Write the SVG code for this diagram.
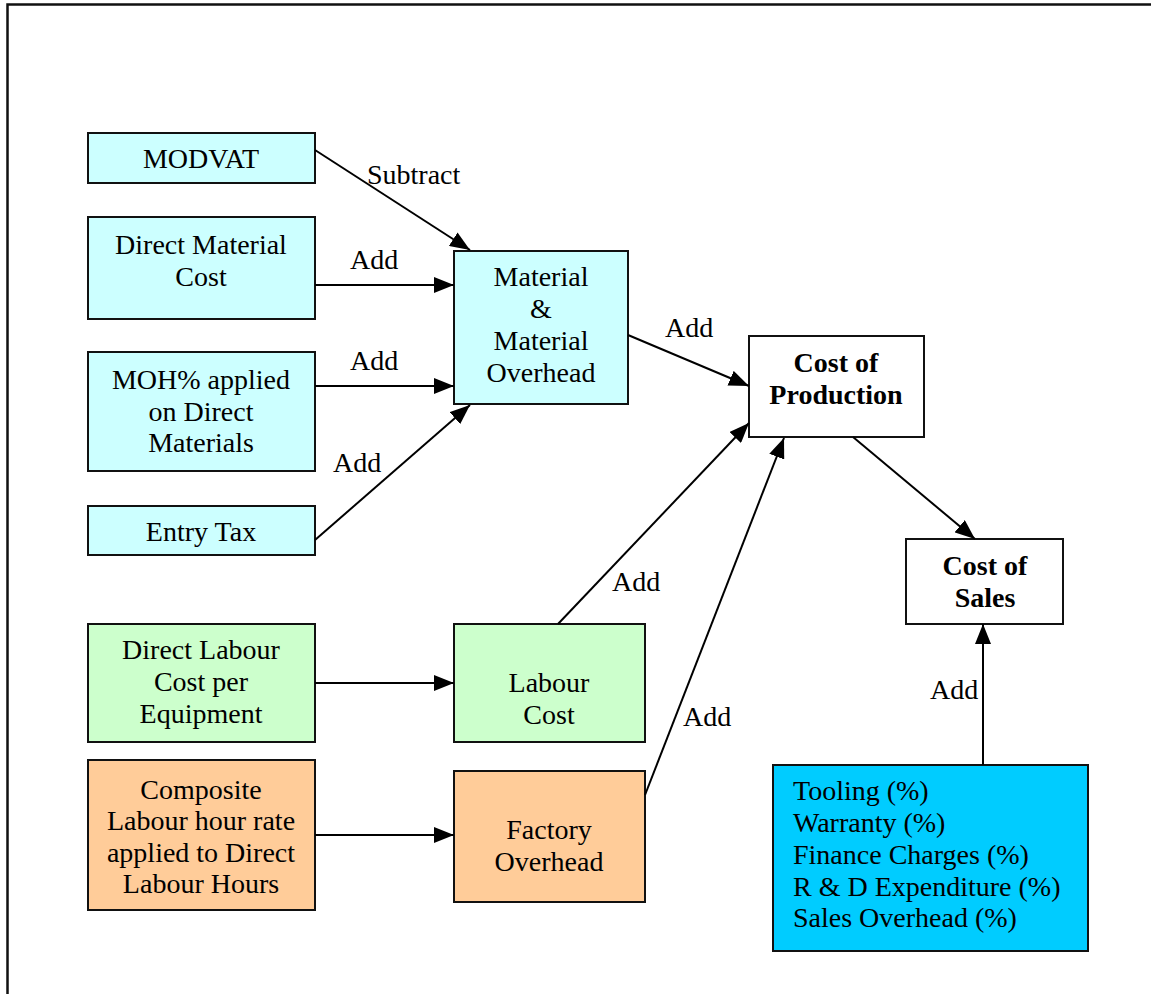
<svg xmlns="http://www.w3.org/2000/svg" width="1151" height="994" viewBox="0 0 1151 994">
<defs>
<marker id="ah" viewBox="0 0 20 16" refX="20" refY="8" markerWidth="20" markerHeight="16" markerUnits="userSpaceOnUse" orient="auto">
<path d="M0,0 L20,8 L0,16 Z" fill="#000"/>
</marker>
<style>
text{font-family:"Liberation Serif","Times New Roman",serif;font-size:28px;fill:#000}
.c{text-anchor:middle}
.b{font-weight:bold}
.box{stroke:#111;stroke-width:2}
.cyan{fill:#CCFFFF}
.green{fill:#CCFFCC}
.orange{fill:#FFCC99}
.white{fill:#FFFFFF}
.blue{fill:#00CCFF}
.conn line{stroke:#000;stroke-width:2;marker-end:url(#ah)}
</style>
</defs>
<rect width="1151" height="994" fill="#fff"/>
<path d="M7.5,996 L7.5,4.5 L1153,4.5" fill="none" stroke="#111" stroke-width="2.5"/>

<g id="modvat"><rect class="box cyan" x="88" y="133" width="227" height="50"/><text class="c" x="201" y="168">MODVAT</text></g>
<g id="dmc"><rect class="box cyan" x="88" y="217" width="227" height="102"/><text class="c" x="201" y="254">Direct Material</text><text class="c" x="201" y="286">Cost</text></g>
<g id="moh"><rect class="box cyan" x="88" y="352" width="227" height="119"/><text class="c" x="201" y="389">MOH% applied</text><text class="c" x="201" y="421">on Direct</text><text class="c" x="201" y="452">Materials</text></g>
<g id="entry"><rect class="box cyan" x="88" y="506" width="227" height="49"/><text class="c" x="201" y="541">Entry Tax</text></g>
<g id="mmo"><rect class="box cyan" x="454" y="251" width="174" height="153"/><text class="c" x="541" y="286">Material</text><text class="c" x="541" y="318">&amp;</text><text class="c" x="541" y="350">Material</text><text class="c" x="541" y="382">Overhead</text></g>
<g id="cop"><rect class="box white" x="749" y="336" width="175" height="101"/><text class="c b" x="836" y="372">Cost of</text><text class="c b" x="836" y="404">Production</text></g>
<g id="cos"><rect class="box white" x="906" y="539" width="157" height="85"/><text class="c b" x="985" y="575">Cost of</text><text class="c b" x="985" y="607">Sales</text></g>
<g id="dlc"><rect class="box green" x="88" y="624" width="227" height="118"/><text class="c" x="201" y="659">Direct Labour</text><text class="c" x="201" y="691">Cost per</text><text class="c" x="201" y="723">Equipment</text></g>
<g id="lc"><rect class="box green" x="454" y="624" width="191" height="118"/><text class="c" x="549" y="692">Labour</text><text class="c" x="549" y="724">Cost</text></g>
<g id="clr"><rect class="box orange" x="88" y="760" width="227" height="150"/><text class="c" x="201" y="799">Composite</text><text class="c" x="201" y="830">Labour hour rate</text><text class="c" x="201" y="862">applied to Direct</text><text class="c" x="201" y="893">Labour Hours</text></g>
<g id="fo"><rect class="box orange" x="454" y="771" width="191" height="131"/><text class="c" x="549" y="839">Factory</text><text class="c" x="549" y="871">Overhead</text></g>
<g id="tooling"><rect class="box blue" x="773" y="765" width="315" height="186"/><text x="793" y="800">Tooling (%)</text><text x="793" y="832">Warranty (%)</text><text x="793" y="864">Finance Charges (%)</text><text x="793" y="896">R &amp; D Expenditure (%)</text><text x="793" y="927">Sales Overhead (%)</text></g>

<g id="connectors" class="conn">
<line x1="315" y1="150" x2="470" y2="250"/>
<line x1="315" y1="285" x2="454" y2="285"/>
<line x1="315" y1="386" x2="454" y2="386"/>
<line x1="315" y1="540" x2="470" y2="405"/>
<line x1="628" y1="335" x2="749" y2="386"/>
<line x1="558" y1="624" x2="749" y2="423"/>
<line x1="645" y1="795" x2="784" y2="438"/>
<line x1="853" y1="437" x2="975" y2="539"/>
<line x1="983" y1="765" x2="983" y2="624"/>
<line x1="315" y1="683" x2="454" y2="683"/>
<line x1="315" y1="835" x2="454" y2="835"/>
</g>
<g id="labels">
<text x="367" y="184">Subtract</text>
<text x="350" y="269">Add</text>
<text x="350" y="370">Add</text>
<text x="333" y="472">Add</text>
<text x="665" y="337">Add</text>
<text x="612" y="591">Add</text>
<text x="683" y="726">Add</text>
<text x="930" y="699">Add</text>
</g>
</svg>
